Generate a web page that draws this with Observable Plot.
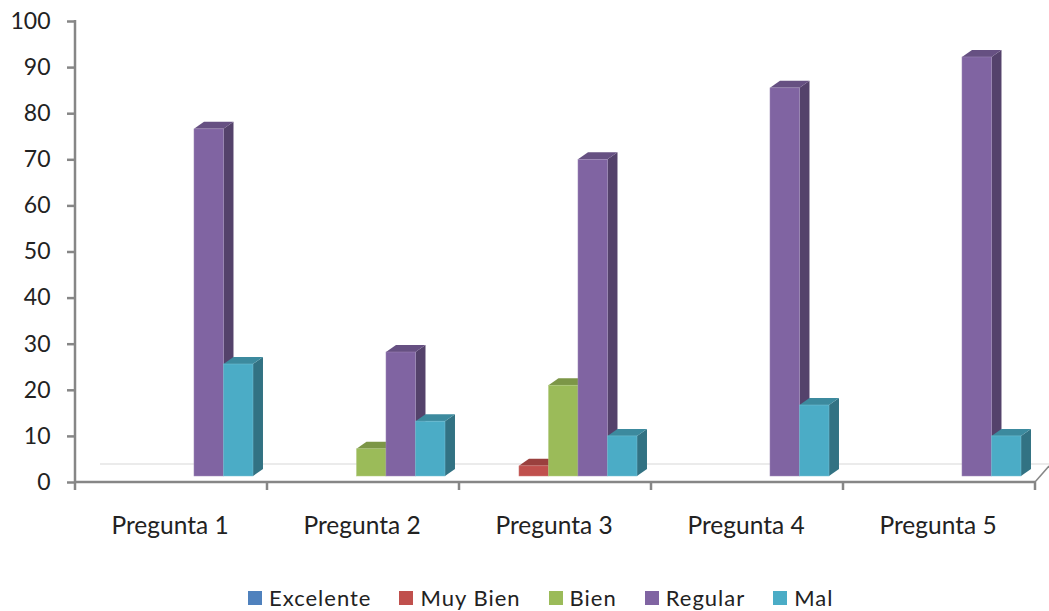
<!DOCTYPE html>
<html>
<head>
<meta charset="utf-8">
<script src="https://cdn.jsdelivr.net/npm/d3@7"></script>
<script src="https://cdn.jsdelivr.net/npm/@observablehq/plot@0.6"></script>
<style>
  html, body { margin: 0; padding: 0; background: #fff; }
  #chart svg { display: block; }
  #chart { font-family: Lato, sans-serif; color: #222; width: 1049px; height: 611px; overflow: hidden; }
  .lg-swatches { margin: 13px 0 0 248px !important; min-height: 0 !important; font-family: Lato, sans-serif !important; font-size: 22px !important; line-height: 26px; color: #222; letter-spacing: 1px; display: flex; align-items: center; }
  .lg-swatch { margin-right: 28px !important; display: inline-flex; align-items: center; }
  .lg-swatch svg { margin-right: 7px !important; }
</style>
</head>
<body>
<div id="chart"></div>
<script>
const preguntas = ["Pregunta 1", "Pregunta 2", "Pregunta 3", "Pregunta 4", "Pregunta 5"];
const series = ["Excelente", "Muy Bien", "Bien", "Regular", "Mal"];
const colores = ["#4f81bd", "#c0504d", "#9bbb59", "#8064a2", "#4bacc6"];
const excelente = [0, 0, 0, 0, 0];
const muyBien = [0, 0, 3.5, 0, 0];
const bien = [0, 7.2, 21, 0, 0];
const regular = [76.6, 28.2, 70, 85.5, 92.2];
const mal = [25.6, 13.2, 10, 16.7, 10];
const yTicks = [0, 10, 20, 30, 40, 50, 60, 70, 80, 90, 100];
const nivelPared = 3.9;

const valores = [excelente, muyBien, bien, regular, mal];
const filas = series.flatMap((s, j) =>
  preguntas.map((p, i) => ({pregunta: p, serie: s, valor: valores[j][i]}))
).filter(d => d.valor > 0);

const prof = {dx: 10, dy: 7, base: 6};
const ns = "http://www.w3.org/2000/svg";
function el(parent, tag, attrs) {
  const n = document.createElementNS(ns, tag);
  for (const k in attrs) n.setAttribute(k, attrs[k]);
  parent.appendChild(n);
  return n;
}
function sombra(color, k) {
  const c = d3.rgb(color);
  return d3.rgb(c.r * k, c.g * k, c.b * k).formatHex();
}

// Draws each bar as a box: front, side and top faces, from the scaled values.
function caja(index, scales, values) {
  const g = document.createElementNS(ns, "g");
  const w = scales.scales.x.bandwidth;
  for (const i of index) {
    const x = values.x[i], y1 = values.y1[i] - prof.base, y2 = values.y2[i], c = values.fill[i];
    const r = x + w;
    const pts = a => a.map(p => p.join(",")).join(" ");
    el(g, "polygon", {fill: sombra(c, 0.66), points: pts([[r, y2], [r + prof.dx, y2 - prof.dy], [r + prof.dx, y1 - prof.dy], [r, y1]])});
    el(g, "polygon", {fill: sombra(c, 0.8), points: pts([[x, y2], [x + prof.dx, y2 - prof.dy], [r + prof.dx, y2 - prof.dy], [r, y2]])});
    el(g, "rect", {x, y: y2, width: w, height: y1 - y2, fill: c, stroke: d3.interpolateRgb(c, "#fff")(0.25), "stroke-width": 0.5});
  }
  return g;
}

// Draws the floor of the chart for one question: axis line, band-edge ticks, back wall line.
function suelo(index, scales, values, dims) {
  const g = document.createElementNS(ns, "g");
  const n = index[0];
  const x0 = dims.marginLeft, bw = scales.scales.fx.bandwidth, x1 = x0 + bw;
  const y0 = scales.y(0), yTop = scales.y(100), yp = scales.y(nivelPared);
  const eje = {stroke: "#868686", "stroke-width": 2.5, fill: "none"};
  el(g, "line", {x1: n === 0 ? x0 + 25 : x0 + 14, x2: x1 + 14, y1: yp, y2: yp, stroke: "#e4e4e4", "stroke-width": 1.5});
  el(g, "line", {x1: x0, x2: x1, y1: y0, y2: y0, ...eje});
  el(g, "line", {x1: x0, x2: x0, y1: y0, y2: y0 + 8, ...eje});
  if (n === 0) el(g, "line", {x1: x0, x2: x0, y1: yTop - 1, y2: y0, ...eje});
  if (n === preguntas.length - 1) {
    el(g, "line", {x1, x2: x1, y1: y0, y2: y0 + 8, ...eje});
    el(g, "line", {x1, x2: x1 + 14, y1: y0, y2: y0 - 16, ...eje, "stroke-width": 1.5});
  }
  return g;
}

const grafico = Plot.plot({
  width: 1049,
  height: 572,
  marginLeft: 75,
  marginRight: 14,
  marginTop: 21,
  marginBottom: 90,
  style: {fontFamily: "Lato, sans-serif", overflow: "visible", background: "#fff"},
  fx: {domain: preguntas, padding: 0, round: false, label: null},
  x: {domain: series, paddingInner: 0, paddingOuter: 0.754, align: 0.685, round: false, axis: null},
  y: {domain: [0, 100], label: null},
  color: {domain: series, range: colores},
  marks: [
    Plot.ruleY(preguntas, {fx: d => d, y: () => 0, render: suelo}),
    Plot.barY(filas, {fx: "pregunta", x: "serie", y1: () => 0, y2: "valor", fill: "serie", render: caja}),
    Plot.axisY({ticks: yTicks, tickSize: 8, tickPadding: 17, stroke: "#868686", strokeWidth: 2.5, strokeOpacity: 1, fill: "#222", fontSize: 23, label: null}),
    Plot.axisFx({anchor: "bottom", tickSize: 0, tickPadding: 34, dx: -1.5, fill: "#222", fontSize: 24.5, label: null})
  ]
});
const cont = document.getElementById("chart");
cont.appendChild(grafico);
cont.appendChild(grafico.legend("color", {swatchSize: 14, className: "lg"}));
</script>
</body>
</html>
